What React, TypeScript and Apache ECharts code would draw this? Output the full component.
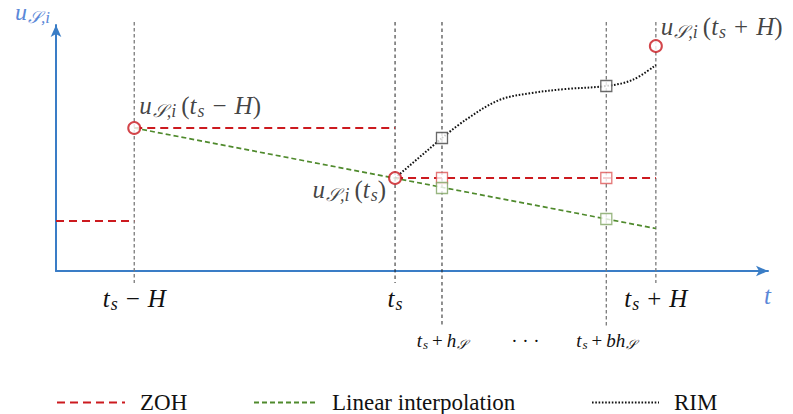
import { useEffect, useRef } from 'react';
import * as echarts from 'echarts';

// Time is measured in units of the horizon H, relative to t_s.
const T_MIN = -1.3;
const T_MAX = 1.43;
const U_MIN = 0;
const U_MAX = 4.92;

// Sampled input values u_S,i at t_s − H, t_s and t_s + H
const sampleTimes = [-1, 0, 1];
const sampleValues = [2.86, 1.86, 4.5];
const sampleLabels = [
  '{it|u}{sub|𝒮,i}{par|(}{it|t}{sub|s}{op|−}{it|H}{rm|)}',
  '{it|u}{sub|𝒮,i}{par|(}{it|t}{sub|s}{rm|)}',
  '{it|u}{sub|𝒮,i}{par|(}{it|t}{sub|s}{op|+}{it|H}{rm|)}',
];

// Intermediate instants t_s + h_S and t_s + b·h_S
const stepTimes = [0.18, 0.81];

// Zero-order hold value before t_s − H
const zohPreviousValue = 1.0;

// Linear interpolation through the two last samples, extended to t_s + H
const linearEndValue = 0.85;
const linearStepValues = [1.66, 1.04];

// RIM prediction between t_s and t_s + H
const rimStartTimes = [0, 0.18];
const rimStartValues = [1.86, 2.66];
const rimTimes = [0.18, 0.27, 0.4, 0.525, 0.655, 0.81, 0.91, 1.0];
const rimValues = [2.66, 3.02, 3.42, 3.56, 3.64, 3.7, 3.82, 4.12];

// Vertical guides
const guideTop = 4.98;
const grayGuideTimes = [-1, 0.81, 1];
const grayGuideBottoms = [-0.24, -1.12, -0.24];
const darkGuideTimes = [0, 0.18];
const darkGuideBottoms = [-0.24, -1.12];

// Tick labels under the time axis
const upperTickValues = [-1, 0, 1];
const upperTickLabels = [
  '{it|t}{sub|s}{op|−}{it|H}',
  '{it|t}{sub|s}',
  '{it|t}{sub|s}{op|+}{it|H}',
];
const lowerTickValues = [0.18, 0.5, 0.81];
const lowerTickLabels = [
  '{it|t}{sub|s}{op|+}{it|h}{sub|𝒮}',
  '{rm|· · ·}',
  '{it|t}{sub|s}{op|+}{it|bh}{sub|𝒮}',
];

const SERIF = '"Liberation Serif"';
const INK = '#111111';
const AXIS = '#3a7dc6';
const AXIS_TEXT = '#5b88d8';
const RED = '#cc1a1f';
const GREEN = '#4f8a2c';

function mathRich(color: string, size: number, opGap: number) {
  const sub = Math.round(size * 0.7);
  const drop = Math.round(size * 0.44);
  return {
    it: { fontFamily: SERIF, fontStyle: 'italic', fontSize: size, color },
    rm: { fontFamily: SERIF, fontSize: size, color },
    par: { fontFamily: SERIF, fontSize: size, color, padding: [0, 0, 0, 5] },
    op: { fontFamily: SERIF, fontSize: size, color, padding: [0, opGap, 0, opGap] },
    sub: { fontFamily: SERIF, fontStyle: 'italic', fontSize: sub, color, padding: [drop, 0, 0, 1] },
    low: { fontFamily: SERIF, fontStyle: 'italic', fontSize: size, color, padding: [48, 0, 0, 0] },
  };
}

function pickLabel(values: number[], labels: string[]) {
  return (v: number) => {
    const i = values.findIndex((x) => Math.abs(x - v) < 1e-6);
    return i >= 0 ? labels[i] : '';
  };
}

function guideData(times: number[], bottoms: number[]) {
  const out: any[] = [];
  times.forEach((t, i) => {
    if (i > 0) out.push([t, '-']);
    out.push([t, guideTop], [t, bottoms[i]]);
  });
  return out;
}

function buildOption() {
  const zohData: any[] = [
    [T_MIN, zohPreviousValue],
    [sampleTimes[0], zohPreviousValue],
    [sampleTimes[0], '-'],
    [sampleTimes[0], sampleValues[0]],
    [sampleTimes[1], sampleValues[0]],
    [sampleTimes[1], '-'],
    [sampleTimes[1], sampleValues[1]],
    [sampleTimes[2], sampleValues[1]],
  ];

  const labelPlacement = [
    { position: [12, -16], align: 'left' },
    { position: [-2, 18], align: 'right' },
    { position: [12, -13], align: 'left' },
  ];

  const square = (border: string) => ({
    type: 'scatter',
    symbol: 'rect',
    symbolSize: 11,
    z: 6,
    silent: true,
    itemStyle: { color: '#ffffff', borderColor: border, borderWidth: 1.3 },
  });

  const legendCommon = {
    top: 386,
    itemHeight: 14,
    itemStyle: { opacity: 0 },
    textStyle: { fontFamily: SERIF, fontSize: 23, color: INK, padding: [0, 0, 0, 10] },
  };

  return {
    animation: false,
    grid: { left: 56, right: 25, top: 25, bottom: 143 },
    legend: [
      { ...legendCommon, data: ['ZOH'], left: 51, itemWidth: 68 },
      { ...legendCommon, data: ['Linear interpolation'], left: 248, itemWidth: 63 },
      { ...legendCommon, data: ['RIM'], left: 586, itemWidth: 67 },
    ],
    xAxis: [
      {
        type: 'value',
        min: T_MIN,
        max: T_MAX,
        position: 'bottom',
        axisLine: {
          show: true,
          onZero: false,
          lineStyle: { color: AXIS, width: 2 },
          symbol: ['none', 'arrow'],
          symbolSize: [8, 12],
        },
        axisTick: { show: false },
        splitLine: { show: false },
        axisLabel: {
          customValues: upperTickValues,
          formatter: pickLabel(upperTickValues, upperTickLabels),
          margin: 27,
          verticalAlign: 'middle',
          rich: mathRich(INK, 25, 8),
        },
        name: '{low|t}',
        nameLocation: 'end',
        nameGap: -4,
        nameTextStyle: { verticalAlign: 'middle', rich: mathRich(AXIS_TEXT, 25, 8) },
      },
      {
        type: 'value',
        min: T_MIN,
        max: T_MAX,
        position: 'bottom',
        axisLine: { show: false, onZero: false },
        axisTick: { show: false },
        splitLine: { show: false },
        axisLabel: {
          customValues: lowerTickValues,
          formatter: pickLabel(lowerTickValues, lowerTickLabels),
          margin: 69,
          verticalAlign: 'middle',
          rich: mathRich(INK, 19, 4),
        },
      },
    ],
    yAxis: {
      type: 'value',
      min: U_MIN,
      max: U_MAX,
      axisLine: {
        show: true,
        onZero: false,
        lineStyle: { color: AXIS, width: 2 },
        symbol: ['none', 'arrow'],
        symbolSize: [8, 12],
      },
      axisTick: { show: false },
      axisLabel: { show: false },
      splitLine: { show: false },
      name: '{it|u}{sub|𝒮,i}',
      nameLocation: 'end',
      nameGap: -1,
      nameTextStyle: { align: 'right', padding: [0, 6, 0, 0], rich: mathRich(AXIS_TEXT, 24, 6) },
    },
    series: [
      {
        name: 'guides-gray',
        type: 'line',
        clip: false,
        silent: true,
        symbol: 'none',
        z: 1,
        data: guideData(grayGuideTimes, grayGuideBottoms),
        lineStyle: { color: '#7a7a7a', width: 1.3, type: [3.5, 2.5] },
      },
      {
        name: 'guides-dark',
        type: 'line',
        clip: false,
        silent: true,
        symbol: 'none',
        z: 1,
        data: guideData(darkGuideTimes, darkGuideBottoms),
        lineStyle: { color: '#222222', width: 1, type: [3.5, 3] },
      },
      {
        name: 'ZOH',
        type: 'line',
        symbol: 'none',
        z: 3,
        data: zohData,
        lineStyle: { color: RED, width: 2, type: [8, 5] },
        itemStyle: { color: RED },
      },
      {
        name: 'Linear interpolation',
        type: 'line',
        symbol: 'none',
        z: 3,
        data: [
          [sampleTimes[0], sampleValues[0]],
          [sampleTimes[2], linearEndValue],
        ],
        lineStyle: { color: GREEN, width: 1.7, type: [5, 3] },
        itemStyle: { color: GREEN },
      },
      {
        name: 'RIM',
        type: 'line',
        symbol: 'none',
        z: 3,
        smooth: 0.35,
        data: rimTimes.map((t, i) => [t, rimValues[i]]),
        lineStyle: { color: INK, width: 2, type: [1.6, 1.7] },
        itemStyle: { color: INK },
      },
      {
        name: 'RIM-start',
        type: 'line',
        symbol: 'none',
        z: 3,
        data: rimStartTimes.map((t, i) => [t, rimStartValues[i]]),
        lineStyle: { color: INK, width: 2, type: [1.6, 1.7] },
      },
      {
        ...square('#dd5555'),
        data: stepTimes.map((t) => [t, sampleValues[1]]),
      },
      {
        ...square('#7fa462'),
        data: stepTimes.map((t, i) => [t, linearStepValues[i]]),
      },
      {
        ...square('#444444'),
        data: stepTimes.map((t) => [t, rimValues[rimTimes.indexOf(t)]]),
      },
      {
        type: 'scatter',
        symbol: 'circle',
        symbolSize: 12,
        z: 7,
        silent: true,
        itemStyle: { color: '#ffffff', borderColor: '#c8161d', borderWidth: 2 },
        label: {
          show: true,
          fontFamily: SERIF,
          verticalAlign: 'middle',
          rich: mathRich(INK, 25, 8),
        },
        data: sampleTimes.map((t, i) => ({
          value: [t, sampleValues[i]],
          label: { formatter: sampleLabels[i], ...labelPlacement[i] },
        })),
      },
    ],
  };
}

export default function App() {
  const ref = useRef<HTMLDivElement>(null);
  useEffect(() => {
    if (!ref.current) return;
    const chart = echarts.init(ref.current, null, { renderer: 'svg' });
    chart.setOption(buildOption() as any);
    return () => chart.dispose();
  }, []);
  return (
    <div
      ref={ref}
      style={{ position: 'fixed', left: 0, top: 0, width: 793, height: 414, background: '#ffffff' }}
    />
  );
}
